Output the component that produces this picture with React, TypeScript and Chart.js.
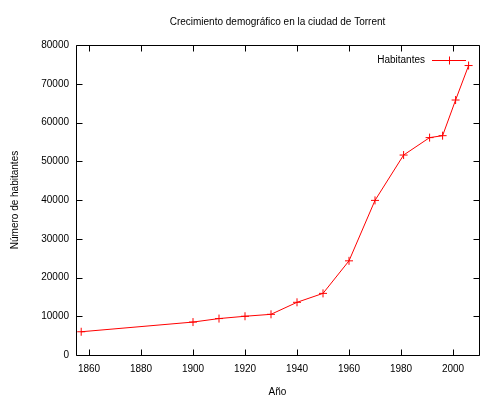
import React, { useEffect, useRef } from "react";
import { Chart, registerables } from "chart.js";

Chart.register(...registerables);

const years = [1857, 1900, 1910, 1920, 1930, 1940, 1950, 1960, 1970, 1981, 1991, 1996, 2001, 2006];
const population = [6000, 8500, 9400, 10000, 10500, 13600, 15900, 24300, 39900, 51600, 56100, 56600, 65800, 74700];
const xTickValues = [1860, 1880, 1900, 1920, 1940, 1960, 1980, 2000];
const yTickValues = [0, 10000, 20000, 30000, 40000, 50000, 60000, 70000, 80000];

const seriesLabel = "Habitantes";
const titleText = "Crecimiento demográfico en la ciudad de Torrent";
const xTitle = "Año";
const yTitle = "Número de habitantes";

const FONT = "'Liberation Sans', Arial, sans-serif";
const RED = "#ff0000";

const framePlugin = {
  id: "gnuplotFrame",
  afterDraw(chart: any) {
    const { ctx, chartArea } = chart;
    const { left, right, top, bottom } = chartArea;
    const xs = chart.scales.x;
    const ys = chart.scales.y;
    const L = Math.round(left) + 0.5;
    const R = Math.round(right) + 0.5;
    const T = Math.round(top) + 0.5;
    const B = Math.round(bottom) + 0.5;
    ctx.save();
    ctx.strokeStyle = "#000";
    ctx.lineWidth = 1;
    ctx.beginPath();
    ctx.rect(L, T, R - L, B - T);
    ctx.stroke();
    const tl = 6;
    ctx.beginPath();
    xs.ticks.forEach((t: any) => {
      const px = Math.round(xs.getPixelForValue(t.value)) + 0.5;
      ctx.moveTo(px, B);
      ctx.lineTo(px, B - tl);
      ctx.moveTo(px, T);
      ctx.lineTo(px, T + tl);
    });
    ys.ticks.forEach((t: any) => {
      const py = Math.round(ys.getPixelForValue(t.value)) + 0.5;
      ctx.moveTo(L, py);
      ctx.lineTo(L + tl, py);
      ctx.moveTo(R, py);
      ctx.lineTo(R - tl, py);
    });
    ctx.stroke();

    // legend (gnuplot style: text then sample)
    const ds = chart.data.datasets[0];
    const ly = Math.round(top + 15) + 0.5;
    const lineEnd = right - 13;
    const lineStart = lineEnd - 34;
    ctx.font = `10px ${FONT}`;
    ctx.fillStyle = "#000";
    ctx.textAlign = "right";
    ctx.textBaseline = "middle";
    ctx.fillText(ds.label, lineStart - 7, ly);
    ctx.strokeStyle = ds.borderColor;
    ctx.beginPath();
    ctx.moveTo(lineStart, ly);
    ctx.lineTo(lineEnd, ly);
    const cx = Math.round((lineStart + lineEnd) / 2) + 0.5;
    ctx.moveTo(cx - 4, ly);
    ctx.lineTo(cx + 4, ly);
    ctx.moveTo(cx, ly - 4);
    ctx.lineTo(cx, ly + 4);
    ctx.stroke();
    ctx.restore();
  },
};

export default function App() {
  const canvasRef = useRef<HTMLCanvasElement | null>(null);

  useEffect(() => {
    if (!canvasRef.current) return;
    Chart.defaults.font.family = FONT;
    Chart.defaults.color = "#000";
    const chart = new Chart(canvasRef.current, {
      type: "line",
      data: {
        datasets: [
          {
            label: seriesLabel,
            data: years.map((y, i) => ({ x: y, y: population[i] })),
            borderColor: RED,
            backgroundColor: RED,
            borderWidth: 1,
            pointStyle: "cross",
            pointRadius: 4,
            pointBorderWidth: 1,
            pointBorderColor: RED,
            fill: false,
            tension: 0,
          },
        ],
      },
      options: {
        responsive: false,
        animation: false,
        events: [],
        layout: { padding: { left: 0, right: 21, top: 0, bottom: 0 } },
        plugins: {
          legend: { display: false },
          tooltip: { enabled: false },
          title: {
            display: true,
            fullSize: false,
            text: titleText,
            color: "#000",
            font: { size: 10, weight: "normal", family: FONT, lineHeight: 1.2 },
            padding: { top: 16, bottom: 17 },
          },
        },
        scales: {
          x: {
            type: "linear",
            min: 1855,
            max: 2010,
            afterBuildTicks: (scale: any) => {
              scale.ticks = xTickValues.map((v) => ({ value: v }));
            },
            afterFit: (scale: any) => {
              scale.height = 45;
            },
            grid: { display: false, drawTicks: false },
            border: { display: false },
            ticks: {
              color: "#000",
              font: { size: 10, family: FONT },
              padding: 8,
              maxRotation: 0,
              autoSkip: false,
              callback: (v: any) => String(v),
            },
            title: {
              display: true,
              text: xTitle,
              color: "#000",
              font: { size: 10, family: FONT, lineHeight: 1.2 },
              padding: { top: 0, bottom: 2 },
            },
          },
          y: {
            type: "linear",
            min: 0,
            max: 80000,
            afterBuildTicks: (scale: any) => {
              scale.ticks = yTickValues.map((v) => ({ value: v }));
            },
            afterFit: (scale: any) => {
              scale.width = 76;
            },
            grid: { display: false, drawTicks: false },
            border: { display: false },
            ticks: {
              color: "#000",
              font: { size: 10, family: FONT },
              padding: 7,
              autoSkip: false,
              callback: (v: any) => String(v),
            },
            title: {
              display: true,
              text: yTitle,
              color: "#000",
              font: { size: 10, family: FONT, lineHeight: 1.2 },
              padding: { top: 9, bottom: 0 },
            },
          },
        },
      },
      plugins: [framePlugin],
    });
    return () => chart.destroy();
  }, []);

  return (
    <div style={{ position: "absolute", left: 0, top: 0, width: 500, height: 400, background: "#fff" }}>
      <canvas ref={canvasRef} width={500} height={400} />
    </div>
  );
}
